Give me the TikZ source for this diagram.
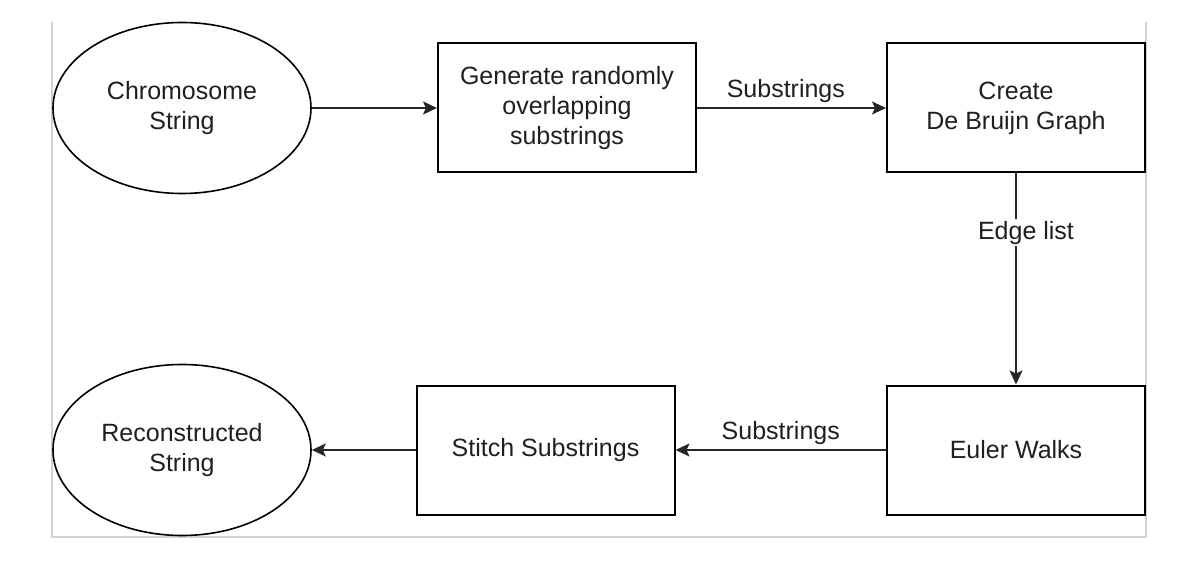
\documentclass[tikz,border=0pt]{standalone}
\usepackage{fontspec}
\setmainfont{Liberation Sans}
\usetikzlibrary{arrows.meta,shapes.geometric}

\begin{document}
\begin{tikzpicture}[x=0.5pt,y=-0.5pt,
	every node/.style={font=\fontsize{12.5}{15}\selectfont, text=black!88},
	stepbox/.style={draw, line width=1pt, minimum width=129pt, minimum height=64.5pt, align=center, inner sep=0pt},
	endpoint/.style={draw, ellipse, line width=0.8pt, minimum width=129pt, minimum height=85.5pt, align=center, inner sep=0pt},
	flow/.style={-{Stealth[length=7pt,width=6.5pt,inset=1.5pt]}, line width=0.9pt, draw=black!85}]
	\useasboundingbox (0,0) rectangle (1182,566);
	%\draw[black!15] (0,0) rectangle (1182,566);
	\draw[black!18, line width=0.6pt] (52,22) -- (52,537) -- (1146,537) -- (1146,22);
	% top row
	\node[endpoint]  at (182,108)   (chrom)  {Chromosome\\String};
	\node[stepbox]   at (567,108)   (gen)    {Generate randomly\\overlapping\\substrings};
	\node[stepbox]   at (1016,108)  (dbg)    {Create\\De Bruijn Graph};
	% bottom row
	\node[stepbox]   at (1016,450)  (euler)  {Euler Walks};
	\node[stepbox]   at (545.5,450) (stitch) {Stitch Substrings};
	\node[endpoint]  at (182,450)   (recon)  {Reconstructed\\String};
	\draw[flow] (chrom) -- (gen);
	\draw[flow] (gen) -- node[above, inner sep=2pt, pos=0.47] (sub1) {Substrings} (dbg);
	\draw[flow] (dbg) -- node[fill=white, inner sep=1pt, pos=0.28, xshift=5pt] (edges) {Edge list} (euler);
	\draw[flow] (euler) -- node[above, inner sep=2pt] (sub2) {Substrings} (stitch);
	\draw[flow] (stitch) -- (recon);
\end{tikzpicture}
\end{document}
